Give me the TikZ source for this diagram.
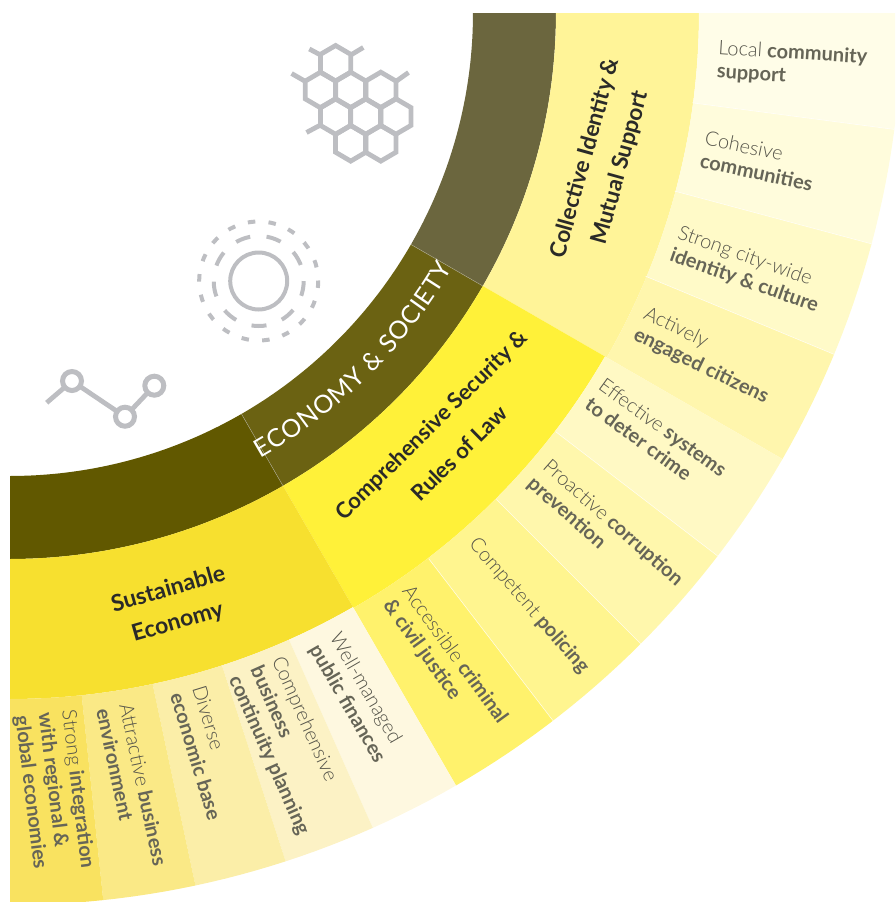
\documentclass[tikz,border=0pt]{standalone}
\usepackage{fontspec}
\setmainfont{Lato}
\newfontfamily\ltfam{Lato Light}
\usetikzlibrary{decorations.text}
\definecolor{dA}{HTML}{6B663E}\definecolor{dB}{HTML}{6B6212}\definecolor{dC}{HTML}{615800}
\definecolor{mA}{HTML}{FFF498}\definecolor{mB}{HTML}{FFF139}\definecolor{mC}{HTML}{F7E02F}
\definecolor{a1}{HTML}{FFFDE8}\definecolor{a2}{HTML}{FFFCDC}\definecolor{a3}{HTML}{FFFAC8}\definecolor{a4}{HTML}{FFF6AD}
\definecolor{b1}{HTML}{FFF9C4}\definecolor{b2}{HTML}{FFF7AC}\definecolor{b3}{HTML}{FFF58F}\definecolor{b4}{HTML}{FFF26C}
\definecolor{c1}{HTML}{FEF8E0}\definecolor{c2}{HTML}{FCF2C5}\definecolor{c3}{HTML}{FBEEA8}\definecolor{c4}{HTML}{FAE986}\definecolor{c5}{HTML}{F9E260}
\definecolor{txt}{HTML}{666557}\definecolor{txtl}{HTML}{55544A}\definecolor{head}{HTML}{2A2A28}\definecolor{icon}{HTML}{BDBEC2}
\newcommand\sect[5]{\fill[#5] plot[domain=#1:#2,samples=40] (\x:#4) -- plot[domain=#2:#1,samples=40] (\x:#3) -- cycle;}
\newcommand\lw[1]{{\ltfam\color{txtl}#1}}
\tikzset{
 lab/.style={font=\fontsize{20}{23.5}\selectfont,text=txt,align=left,inner sep=0pt},
 headlab/.style={font=\fontsize{#1}{#1}\selectfont\bfseries,text=head,align=center,inner sep=0pt},
 iconline/.style={draw=icon,line width=4.8pt,line join=miter},
 thinline/.style={draw=icon,line width=4pt},
 seam/.style={draw=white,line width=.6pt,opacity=.75},
 ring/.style={circle,draw=icon,fill=white,line width=5pt,minimum size=19pt,inner sep=0pt,outer sep=0pt}
}
\begin{document}
\begin{tikzpicture}[x=1pt,y=-1pt]
\useasboundingbox (0,0) rectangle (895,902);
\clip (0,0) rectangle (895,902);
\begin{scope}[shift={(10,13)}]
\sect{0}{30}{463}{546}{dA}\sect{30}{60}{463}{546}{dB}\sect{60}{90}{463}{546}{dC}
\sect{0}{30}{546}{689}{mA}\sect{30}{60}{546}{687}{mB}\sect{60}{90}{546}{686}{mC}
\sect{0}{7.5}{689}{892}{a1}\sect{7.5}{15}{689}{892}{a2}\sect{15}{22.5}{689}{892}{a3}\sect{22.5}{30}{689}{892}{a4}
\sect{30}{37.5}{687}{892}{b1}\sect{37.5}{45}{687}{892}{b2}\sect{45}{52.5}{687}{892}{b3}\sect{52.5}{60}{687}{892}{b4}
\sect{60}{66}{686}{892}{c1}\sect{66}{72}{686}{892}{c2}\sect{72}{78}{686}{892}{c3}\sect{78}{84}{686}{892}{c4}\sect{84}{90}{686}{892}{c5}
\foreach \a in {7.5,15,22.5,37.5,45,52.5}{\draw[seam] (\a:688) -- (\a:892);}
\draw[line width=.4pt,color=white!45!dA] (30:463) -- (30:546);
\draw[line width=.4pt,color=white!45!dA] (60:463) -- (60:546);
\path[decorate,decoration={text along path,text align={fit to path},
  text={|\fontsize{25}{25}\selectfont\color{white}|ECONOMY {\&} SOCIETY}}]
  plot[domain=60.6:30,samples=60] (\x:511);
\end{scope}
% headings
\node[headlab=22.6,rotate=74.5] (h1) at (603,163) {Collective Identity \&\\[14pt]Mutual Support};
\node[headlab=22,rotate=44.5] (h2) at (445,439) {Comprehensive Security \&\\[18pt]Rules of Law};
\node[headlab=23,rotate=16] (h3) at (173,606) {Sustainable\\[11pt]Economy};
% labels
\node[lab,rotate=-3.5] (l1) at (792,65) {\lw{Local} \textbf{community}\\\textbf{support}};
\node[lab,rotate=-12] (l2) at (759,161) {\lw{Cohesive}\\\textbf{communities}};
\node[lab,rotate=-19.5] (l3) at (748,270) {\lw{Strong city-wide}\\\textbf{identity \& culture}};
\node[lab,rotate=-26] (l4) at (706,356) {\lw{Actively}\\\textbf{engaged citizens}};
\node[lab,rotate=-36] (l5) at (656,437) {\lw{Effective} \textbf{systems}\\\textbf{to deter crime}};
\node[lab,rotate=-41.5] (l6) at (605,532) {\lw{Proactive} \textbf{corruption}\\\textbf{prevention}};
\node[lab,rotate=-49] (l7) at (529,606) {\lw{Competent} \textbf{policing}};
\node[lab,rotate=-54] (l8) at (445,662) {\lw{Accessible} \textbf{criminal}\\\textbf{\& civil justice}};
\node[lab,rotate=-60] (l9) at (357,698) {\lw{Well-managed}\\\textbf{public finances}};
\node[lab,rotate=-66] (l10) at (290,746) {\lw{Comprehensive}\\\textbf{business}\\\textbf{continuity planning}};
\node[lab,rotate=-73] (l11) at (207,753) {\lw{Diverse}\\\textbf{economic base}};
\node[lab,rotate=-78] (l12) at (132,787) {\lw{Attractive} \textbf{business}\\\textbf{environment}};
\node[lab,rotate=-83] (l13) at (54,792) {\lw{Strong} \textbf{integration}\\\textbf{with regional \&}\\\textbf{global economies}};
% hexagons
\foreach \cx/\cy in {335.6/63.3,320.5/90,350.7/90,380.8/90,335.6/116.5,365.7/116.5,395.8/116.5,350.7/143.3,380.8/143.3}{
 \draw[iconline] (\cx,\cy-17.8) -- (\cx+15.2,\cy-8.9) -- (\cx+15.2,\cy+8.9) -- (\cx,\cy+17.8) -- (\cx-15.2,\cy+8.9) -- (\cx-15.2,\cy-8.9) -- cycle;}
\draw[iconline] (320.6,55) -- (309.3,49);
\draw[iconline] (350.8,55) -- (363.3,47.5);
\draw[iconline] (305.5,81.5) -- (291.6,73.5);
\draw[iconline] (395.8,81.5) -- (408.5,72.5);
\draw[iconline] (320.5,125) -- (306.5,132.5);
% circles
\draw[thinline] (258.7,281) circle[radius=28.5pt];
\draw[thinline,dash pattern=on 15pt off 16.4pt,dash phase=15pt] (258.7,281) circle[radius=45pt];
\draw[thinline,dash pattern=on 7.5pt off 13.27pt,dash phase=7pt] (258.7,281) circle[radius=59.5pt];
% line icon
\coordinate (p0) at (46.7,402.7);
\node[ring] (p1) at (72,381) {};
\node[ring] (p2) at (125,416.7) {};
\node[ring] (p3) at (154.3,385.7) {};
\draw[iconline] (p0) -- (p1);
\draw[iconline] (p1) -- (p2);
\draw[iconline] (p2) -- (p3);
\end{tikzpicture}
\end{document}
